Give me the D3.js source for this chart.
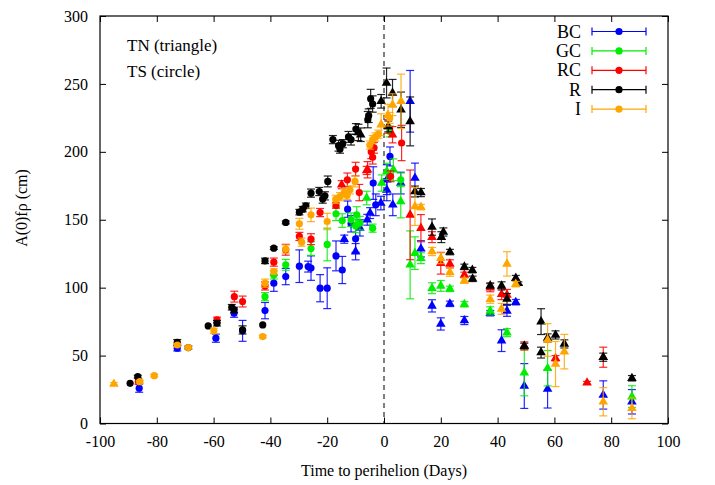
<!DOCTYPE html>
<html><head><meta charset="utf-8">
<script src="https://cdn.jsdelivr.net/npm/d3@7"></script>
<style>body{margin:0;background:#fff}svg{display:block}text{font-family:"Liberation Serif","DejaVu Serif",serif}</style>
</head><body><svg id="c" width="715" height="485" font-family="Liberation Serif, serif"></svg>
<script>
// ---- data: [day, A(0)fρ, error] ----
const seriesNames = ["BC","GC","RC","R","I"];
const seriesColors = ["#0000ff","#00ee00","#ff0000","#000000","#ffa500"];
const xTicks = [-100,-80,-60,-40,-20,0,20,40,60,80,100];
const yTicks = [0,50,100,150,200,250,300];

const bcTS = [[-86.2,26,3],[-72.8,55.4,2],[-59.2,62.8,3],[-52.8,81.2,3],[-49.8,68.2,7.7],[-41.9,83.1,6],[-38.8,103.3,6],[-34.6,108.2,6],[-29.8,115.8,12],[-26.7,115.5,4],[-25.7,114.4,9],[-22.5,99.6,10],[-20,99.6,15],[-16.9,123.4,11],[-14.7,113,10],[-12.8,157.8,6],[-11.6,147,6],[-10,136,10],[-3.8,177,12],[-2.9,161,8],[2.1,196.6,7]];
const bcTN = [[-14,135.7,3],[-10,126.5,6],[-8.5,144,6],[-5.9,150,4],[-4.9,154.9,4],[-1.1,162.3,5],[1,179.5,11],[1,172,8],[3.1,161,8],[5.9,177,8],[9.2,237.2,22.7],[10.9,180.7,11],[13,128.6,6],[16.9,86.6,4.5],[20,73.3,4.5],[23.2,88.1,2],[28.3,75.8,3],[37.4,81.2,2],[41.4,61,8],[43.3,82.9,4],[46.4,89.3,2],[49.4,27.6,16.5],[57.6,25.4,14],[77.2,21,10.4],[87.3,16,9]];
const gcTS = [[-41.9,93.4,3],[-38.8,109.4,3],[-34.6,116.8,4],[-25.7,128.8,5],[-20,131.8,12],[-16.9,154.4,5],[-14.7,149.4,5],[-11.6,150,5],[-9.6,153.6,6],[-10,145.5,5],[-8.5,147.5,5],[-4,143.8,3],[2,215,4],[5.9,179.4,5]];
const gcTN = [[-6.1,166,5],[-0.8,177,6],[1,185.6,6],[3.3,186.8,8],[5.9,163.4,12],[9.2,116.8,25],[10.9,125.4,12],[13,121.7,4],[16.9,99.6,4],[20,101.3,4],[23.2,99.1,2],[28.3,87.8,2],[37.4,82.9,3],[43.3,66.9,3],[49.4,37.4,17],[57.6,40.7,13],[87.3,19.8,8]];
const rcTS = [[-86.5,31,2],[-58.8,76.3,2],[-52.7,93.4,4],[-49.8,89.8,4],[-41.9,101.3,3],[-38.8,118.8,3],[-34.6,127.9,4],[-29.8,137.7,3],[-25.7,135.7,4],[-22.5,155.3,3],[-16.9,160.5,2],[-12.9,179.4,5],[-10,187.3,5],[-8.7,170,6],[-4.5,200,5],[-4,196,5],[-3.5,203,4],[2.3,182,4],[6.2,206.5,13]];
const rcTN = [[-14.9,175.8,3],[-6.1,186.3,3],[-5.8,186.8,6],[1.5,218.7,5],[3,212.6,6],[9.2,153.6,33],[13,143.8,10],[16.9,137.2,4],[20,118,8],[23.2,117.5,3],[28.3,109.4,2],[37.4,100,3],[41.4,95.2,4],[43.3,94.7,4],[49.4,57.1,3],[60.4,48,2],[71.5,30,1],[77.2,48.8,7.4]];
const rTS = [[-89.4,29.6,0],[-86.7,34.5,1],[-72.8,59.8,2],[-68.9,55.9,1],[-61.9,71.8,0],[-58.8,73.8,2],[-53.6,85.6,2],[-52.8,83.6,2],[-49.8,68.9,3],[-42.7,72.6,0],[-41.9,119.7,2],[-38.8,129.1,1],[-34.6,148,1],[-29.8,155.6,2],[-28.6,157.8,2],[-27.5,160.3,2],[-25.7,169.6,3],[-22.8,170.8,3],[-21.6,165.2,3],[-20.8,167.6,3],[-19.8,178.2,4],[-18,209,3],[-16,204.5,4],[-15.5,202,3],[-14.5,206,3],[-12.5,211,4],[-11.6,209,4],[-9.9,216.8,4],[-5.7,223.7,6],[-5.4,226.6,5],[-4.7,239,7],[-4,235.2,6]];
const rTN = [[-9,214.3,6],[-8.2,212.6,5],[-1,237.2,5],[0.9,250.7,11],[3,243.3,10],[1.5,218.7,4],[6,231,13],[9.2,222.4,18],[10.9,170.8,4],[13,170,3],[16.9,144.6,6],[20.2,137.2,4],[20.9,141,3],[23.2,126.2,2],[28.3,115.3,2],[31.1,112.9,2],[31.2,106.5,2],[37.4,101.5,2],[41.4,101.3,3],[43.3,91.7,4],[46.4,107,2],[47.3,103.3,1],[49.4,57.1,2],[55.3,75,9.5],[55.3,52.2,4],[57.6,63,3],[60.4,65.2,3],[63.5,58.6,3],[77.2,48.8,3],[87.3,33.3,2]];
const iTS = [[-86,30.8,1],[-80.9,35.2,1],[-72.8,57.8,1],[-68.9,55.9,1],[-59.9,68.2,2],[-42.7,64,1],[-41.9,103.3,3],[-38.8,111.9,2],[-34.6,128.4,3],[-29.8,147,4],[-29,133.5,3],[-25.7,153.6,5],[-20,148.7,6],[-17,165,3],[-15.5,167,3],[-14,170,3],[-13,168,3],[-12,172,3],[-10.2,178.2,4],[-5,205,3],[-4,209,3],[-3,211,3],[-2,213,3],[2,225,4]];
const iTN = [[-95.1,29.1,1],[-1,220,8],[1.4,227,8],[3,234.7,8],[6,237.2,20],[10.9,159.8,14],[13,159.3,2],[16.9,126.6,3],[20,121.7,4],[23.2,111.4,3],[28.3,105.2,2],[37.4,91.5,3],[41.4,84.4,4],[43.3,117.5,9],[46.4,102.6,2],[57.6,61.5,12],[60.4,43.8,16.6],[63.5,52.9,12.7],[77.2,16,10.4],[87.3,11.2,7.7]];

const seriesTS = [bcTS,gcTS,rcTS,rTS,iTS];
const seriesTN = [bcTN,gcTN,rcTN,rTN,iTN];

// ---- drawing ----
const svg = d3.select("#c");
const L=100,R=668,T=16,B=423.5;
const x = d3.scaleLinear().domain([-100,100]).range([L,R]);
const y = d3.scaleLinear().domain([0,300]).range([B,T]);
const fmt = d => String(d);
const FONT = '"Liberation Serif", serif';

const gx = svg.append("g").attr("transform",`translate(0,${B})`)
  .call(d3.axisBottom(x).tickValues(xTicks).tickFormat(fmt).tickSizeInner(-6).tickSizeOuter(0).tickPadding(12));
const gxt = svg.append("g").attr("transform",`translate(0,${T})`)
  .call(d3.axisTop(x).tickValues(xTicks).tickFormat("").tickSizeInner(-6).tickSizeOuter(0));
const gy = svg.append("g").attr("transform",`translate(${L},0)`)
  .call(d3.axisLeft(y).tickValues(yTicks).tickFormat(fmt).tickSizeInner(-6).tickSizeOuter(0).tickPadding(12));
const gyr = svg.append("g").attr("transform",`translate(${R},0)`)
  .call(d3.axisRight(y).tickValues(yTicks).tickFormat("").tickSizeInner(-6).tickSizeOuter(0));
[gx,gxt,gy,gyr].forEach(g=>{g.select(".domain").remove();g.selectAll("line").attr("stroke","#000");g.selectAll("text").attr("font-size",16).attr("fill","#000").attr("font-family",FONT);});

svg.append("line").attr("x1",x(0)).attr("x2",x(0)).attr("y1",T).attr("y2",B)
  .attr("stroke","#000").attr("stroke-dasharray","5,4").attr("stroke-width",1);

const tri = d3.symbol().type(d3.symbolTriangle).size(40);
seriesNames.forEach((name,i)=>{
  const col = seriesColors[i];
  const g = svg.append("g");
  const all = seriesTS[i].map(d=>({d,t:"c"})).concat(seriesTN[i].map(d=>({d,t:"t"})));
  all.forEach(({d,t})=>{
    const px=x(d[0]), py=y(d[1]), e=d[2];
    if(e>0.5){
      const y1=y(d[1]+e), y2=y(d[1]-e);
      g.append("line").attr("x1",px).attr("x2",px).attr("y1",y1).attr("y2",y2).attr("stroke",col).attr("stroke-width",1.2).attr("stroke-opacity",0.85);
      [y1,y2].forEach(yy=>g.append("line").attr("x1",px-4).attr("x2",px+4).attr("y1",yy).attr("y2",yy).attr("stroke",col).attr("stroke-width",1.2).attr("stroke-opacity",0.85));
    }
    if(t==="c") g.append("circle").attr("cx",px).attr("cy",py).attr("r",3.6).attr("fill",col);
    else g.append("path").attr("d",tri).attr("transform",`translate(${px},${py})`).attr("fill",col);
  });
});

svg.append("rect").attr("x",L).attr("y",T).attr("width",R-L).attr("height",B-T).attr("fill","none").attr("stroke","#000").attr("stroke-width",1.2);

svg.append("text").attr("x",(L+R)/2).attr("y",476).attr("text-anchor","middle").attr("font-size",16).attr("font-family",FONT).text("Time to perihelion (Days)");
svg.append("text").attr("transform","translate(27,208) rotate(-90)").attr("text-anchor","middle").attr("font-size",16).attr("font-family",FONT).text("A(0)fρ (cm)");

svg.append("text").attr("x",127).attr("y",51).attr("font-size",17).attr("font-family",FONT).text("TN (triangle)");
svg.append("text").attr("x",127).attr("y",77).attr("font-size",17).attr("font-family",FONT).text("TS (circle)");

seriesNames.forEach((name,i)=>{
  const ly = 31.5 + i*19.4, col=seriesColors[i];
  svg.append("text").attr("x",581).attr("y",ly+6).attr("text-anchor","end").attr("font-size",18).attr("font-family",FONT).text(name);
  svg.append("line").attr("x1",592).attr("x2",646).attr("y1",ly).attr("y2",ly).attr("stroke",col).attr("stroke-width",1.2);
  [592,646].forEach(xx=>svg.append("line").attr("x1",xx).attr("x2",xx).attr("y1",ly-4).attr("y2",ly+4).attr("stroke",col).attr("stroke-width",1.2));
  svg.append("circle").attr("cx",619).attr("cy",ly).attr("r",3.6).attr("fill",col);
});
</script></body></html>
